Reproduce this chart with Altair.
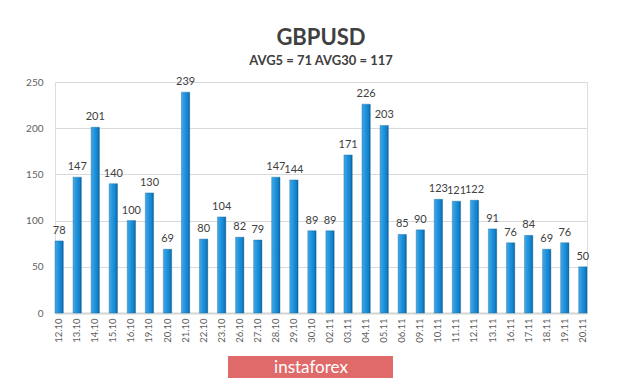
import altair as alt
import pandas as pd

dates = ["12.10", "13.10", "14.10", "15.10", "16.10", "19.10", "20.10", "21.10", "22.10", "23.10",
         "26.10", "27.10", "28.10", "29.10", "30.10", "02.11", "03.11", "04.11", "05.11", "06.11",
         "09.11", "10.11", "11.11", "12.11", "13.11", "16.11", "17.11", "18.11", "19.11", "20.11"]
values = [78, 147, 201, 140, 100, 130, 69, 239, 80, 104,
          82, 79, 147, 144, 89, 89, 171, 226, 203, 85,
          90, 123, 121, 122, 91, 76, 84, 69, 76, 50]
y_ticks = [0, 50, 100, 150, 200, 250]

df = pd.DataFrame({"date": dates, "value": values})

FONT = "Lato"
gradient = alt.Gradient(
    gradient="linear", x1=0, x2=1, y1=0, y2=0,
    stops=[alt.GradientStop(color="#45a8e6", offset=0),
           alt.GradientStop(color="#1e92dc", offset=0.45),
           alt.GradientStop(color="#1280c8", offset=0.8),
           alt.GradientStop(color="#0b5b94", offset=1)])

x_enc = alt.X("date:O", sort=None, title=None,
              scale=alt.Scale(paddingInner=0.54, paddingOuter=0.0),
              axis=alt.Axis(labelAngle=-90, labelFontSize=9.5, labelColor="#606060",
                            labelFont=FONT, ticks=False, domainColor="#d4d4d4",
                            domainWidth=2, labelPadding=5))
y_enc = alt.Y("value:Q", title=None,
              scale=alt.Scale(domain=[0, 250], nice=False),
              axis=alt.Axis(values=y_ticks, labelFontSize=10, labelColor="#606060",
                            labelFont=FONT, ticks=False, domain=False,
                            gridColor="#d9d9d9", gridWidth=1, labelPadding=12))

bars = alt.Chart(df).mark_bar(fill=gradient, stroke="#1469a3", strokeWidth=0.4).encode(
    x=x_enc, y=y_enc)

labels = alt.Chart(df).mark_text(baseline="bottom", dy=-5, fontSize=11, color="#404040",
                                 font=FONT).encode(
    x=alt.X("date:O", sort=None), y="value:Q", text="value:Q")

wm_box = alt.Chart(pd.DataFrame({"t": ["instaforex"]})).mark_rect(
    color="#e06a6a").encode(x=alt.value(173), x2=alt.value(338),
                             y=alt.value(274), y2=alt.value(298))
wm_text = alt.Chart(pd.DataFrame({"t": ["instaforex"]})).mark_text(
    color="white", fontSize=17, font=FONT, align="center", baseline="middle").encode(
    x=alt.value(256), y=alt.value(286), text="t:N")

chart = alt.layer(bars, labels, wm_box, wm_text).properties(
    width=532, height=231,
    autosize=alt.AutoSizeParams(type="none"),
    padding={"left": 47, "top": 74, "right": 25, "bottom": 65},
    title=alt.TitleParams("GBPUSD", subtitle="AVG5 = 71 AVG30 = 117",
                          fontSize=22, fontWeight="bold", color="#404040", font=FONT,
                          subtitleFontSize=13, subtitleFontWeight="bold",
                          subtitleColor="#404040", subtitleFont=FONT,
                          anchor="middle", offset=7, subtitlePadding=5),
).configure_view(stroke=None).configure(background="white")

chart.save("out.html", embed_options={"renderer": "svg", "actions": False})
